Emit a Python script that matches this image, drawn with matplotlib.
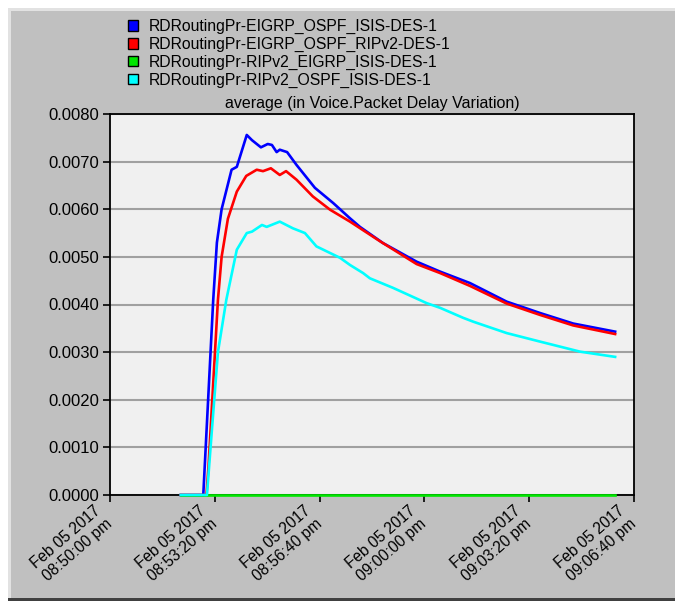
import matplotlib.pyplot as plt
import matplotlib.transforms as mtransforms
from matplotlib.patches import Patch, Rectangle

plt.rcParams.update({"font.family": "Liberation Sans", "font.size": 11.5})

# Data (seconds after Feb 05 2017 08:50:00 pm, delay variation)
series_names = [
    "RDRoutingPr-EIGRP_OSPF_ISIS-DES-1",
    "RDRoutingPr-EIGRP_OSPF_RIPv2-DES-1",
    "RDRoutingPr-RIPv2_EIGRP_ISIS-DES-1",
    "RDRoutingPr-RIPv2_OSPF_ISIS-DES-1",
]
colors = ["#0000ff", "#ff0000", "#00e600", "#00ffff"]

blue_t = [135, 178, 197, 204, 213, 232, 242, 261, 271, 288, 301, 309, 318, 324, 338,
          356, 391, 426, 458, 477, 521, 585, 630, 687, 757, 821, 884, 964]
blue_v = [0, 0, 0.0041, 0.0053, 0.0060, 0.00683, 0.00689, 0.00756, 0.00745, 0.0073,
          0.00737, 0.00735, 0.0072, 0.00725, 0.0072, 0.00693, 0.00645, 0.00613, 0.00581,
          0.00563, 0.00529, 0.0049, 0.00469, 0.00445, 0.00406, 0.00382, 0.0036, 0.00343]

red_t = [135, 184, 188, 206, 213, 225, 242, 260, 280, 292, 307, 324, 336, 356, 387,
         420, 458, 515, 585, 630, 687, 757, 821, 884, 964]
red_v = [0, 0, 0.0006, 0.0041, 0.0050, 0.0058, 0.00637, 0.0067, 0.00683, 0.0068,
         0.00686, 0.00672, 0.0068, 0.00662, 0.00627, 0.00599, 0.00574, 0.00533, 0.00485,
         0.00466, 0.00439, 0.00402, 0.00378, 0.00356, 0.00338]

green_t = [135, 964]
green_v = [0, 0]

cyan_t = [135, 185, 194, 206, 222, 242, 261, 271, 290, 299, 324, 349, 372, 394, 439,
          458, 483, 496, 540, 604, 630, 674, 693, 757, 821, 897, 964]
cyan_v = [0, 0, 0.0013, 0.0030, 0.0041, 0.00515, 0.0055, 0.00553, 0.00567, 0.00563,
          0.00574, 0.0056, 0.0055, 0.00522, 0.00498, 0.00483, 0.00466, 0.00455, 0.00435,
          0.00403, 0.00393, 0.00372, 0.00364, 0.0034, 0.00322, 0.00301, 0.0029]

x_ticks = [0, 200, 400, 600, 800, 1000]
x_labels = ["Feb 05 2017\n08:50:00 pm", "Feb 05 2017\n08:53:20 pm", "Feb 05 2017\n08:56:40 pm",
            "Feb 05 2017\n09:00:00 pm", "Feb 05 2017\n09:03:20 pm", "Feb 05 2017\n09:06:40 pm"]
y_ticks = [0, 0.001, 0.002, 0.003, 0.004, 0.005, 0.006, 0.007, 0.008]

fig = plt.figure(figsize=(6.75, 6.02), dpi=100, facecolor="white")

# window-like background panel
fig.patches.append(Rectangle((8 / 675, 2 / 602), 1, 592 / 602, transform=fig.transFigure,
                             facecolor="#e2e2e2", edgecolor="none", zorder=-10))
fig.patches.append(Rectangle((11 / 675, 4 / 602), 1, 587 / 602, transform=fig.transFigure,
                             facecolor="#c0c0c0", edgecolor="none", zorder=-9))
fig.patches.append(Rectangle((8 / 675, 1 / 602), 1, 3 / 602, transform=fig.transFigure,
                             facecolor="#404040", edgecolor="none", zorder=-8))

ax = fig.add_axes([110 / 675, 1 - 495 / 602, 524 / 675, 381 / 602])
ax.set_facecolor("#f0f0f0")

# Plot
data = [(blue_t, blue_v), (red_t, red_v), (green_t, green_v), (cyan_t, cyan_v)]
order = [2, 3, 1, 0]
for i in order:
    t, v = data[i]
    ax.plot(t, v, color=colors[i], linewidth=1.9, zorder=3 + i, clip_on=False)

ax.set_xlim(0, 1000)
ax.set_ylim(0, 0.008)
ax.set_yticks(y_ticks)
ax.set_yticklabels([f"{v:.4f}" for v in y_ticks], fontsize=12)
ax.set_xticks(x_ticks)
ax.set_xticklabels([])

# rotated time labels, shifted down-left of each tick
offset = mtransforms.ScaledTranslation(-16 / 100, -8 / 100, fig.dpi_scale_trans)
for xt, lab in zip(x_ticks, x_labels):
    ax.text(xt, 0, lab, transform=ax.get_xaxis_transform() + offset, fontsize=11.2,
            rotation=41, ha="right", va="top", rotation_mode="anchor",
            multialignment="center", linespacing=1.2, clip_on=False)

ax.tick_params(direction="out", length=5, width=1.2, color="black", pad=3)
ax.grid(axis="y", color="#a0a0a0", linewidth=1.5)
ax.set_axisbelow(True)
for s in ax.spines.values():
    s.set_color("black")
    s.set_linewidth(1.3)

ax.set_title("average (in Voice.Packet Delay Variation)", fontsize=11.5, pad=4)

# Legend
handles = [Patch(facecolor=c, edgecolor="black", linewidth=1) for c in colors]
fig.legend(handles, series_names, loc="upper left", bbox_to_anchor=(128 / 675, 1 - 19 / 602),
           frameon=False, fontsize=11.3, handlelength=0.62, handleheight=0.62,
           handletextpad=0.7, labelspacing=0.18, borderaxespad=0, borderpad=0)

# Save
plt.savefig("out.png", dpi=100, facecolor=fig.get_facecolor())
